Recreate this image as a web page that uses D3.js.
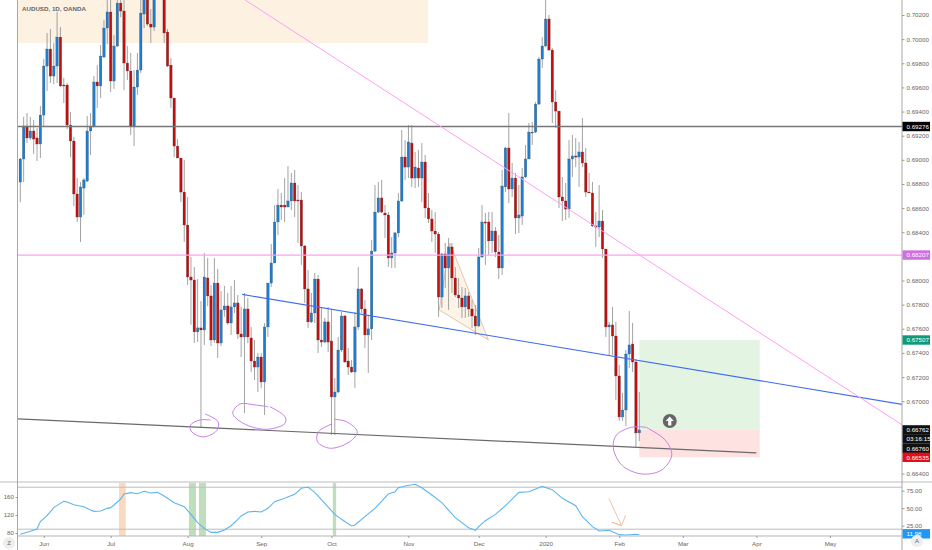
<!DOCTYPE html>
<html>
<head>
<meta charset="utf-8">
<script src="https://cdnjs.cloudflare.com/ajax/libs/d3/7.8.5/d3.min.js"></script>
<style>
  html, body { margin: 0; padding: 0; background: #fff; }
  text { font-family: "Liberation Sans", Arial, sans-serif; }
</style>
</head>
<body>
<div id="chart"></div>
<script>
// AUDUSD daily prices, in points (1 point = 0.00001)
const opens = [68816,69007,69280,69181,69239,69181,69131,69371,69777,69918,69694,69777,70017,69620,69620,69288,69156,68717,68526,68766,68824,69239,69272,69645,69612,69852,70092,70225,69653,69943,70299,70233,69802,69736,69280,69603,69744,70208,70341,70125,70100,70374,70407,70365,70059,69785,69512,69114,69015,68733,68460,68029,68004,67574,67607,67590,68021,67872,67507,67979,67482,67756,67789,67648,67781,67814,67557,67532,67764,67524,67333,67283,67366,67159,67615,67979,68145,68485,68625,68625,68609,68659,68808,68667,68667,68286,67930,67657,67731,68012,67507,67490,67657,67499,67035,67076,67424,67706,67333,67283,67242,67615,67930,67764,67549,67599,68244,68567,68684,68559,68543,68187,68228,68394,68659,69023,68940,69139,68849,68932,68849,68982,68601,68510,68410,68385,67863,68220,68104,68278,68021,67880,67855,67781,67872,67764,67706,67623,68195,68485,68485,68328,68410,68236,68104,68775,69098,68758,68849,68518,68534,68858,69007,69222,69230,69462,69835,69943,70167,69910,69479,69404,68692,68659,68592,69007,69032,69023,69065,68974,68733,68725,68452,68443,68493,68261,67615,67632,67540,67209,66869,66927,67391,67474,67325,66737];
const highs = [69015,69355,69388,69355,69330,69264,69446,69835,70051,70084,69968,70225,70100,69678,69636,69396,69189,68849,68816,68849,69363,69388,69694,69785,69951,70158,70365,70365,70034,70365,70365,70324,69943,69885,69744,69885,70365,70390,70390,70249,70407,70440,70440,70407,70084,69843,69512,69172,69015,68998,68692,68195,68112,68012,67830,68228,68187,67963,68187,68096,67913,67955,67896,67955,68004,67880,67781,67896,67855,67615,67507,67399,67399,67648,67979,68302,68625,68758,68725,68849,68949,68891,68916,68791,68733,68294,68087,67896,68062,68046,67781,67690,67781,67756,67192,67532,67739,67714,67441,67341,67739,68112,67938,67839,67714,68336,68791,68816,68833,68625,68567,68360,68402,68725,69247,69164,69288,69288,69065,69081,69139,69040,68725,68584,68567,68402,68228,68311,68352,68311,68112,68021,67946,67938,67905,67839,67797,68269,68625,68559,68567,68567,68443,68377,68916,69106,69388,68974,68891,68791,68932,69123,69305,69313,69479,69852,70017,70365,70200,69926,69578,69404,68858,68808,69164,69206,69181,69148,69346,69098,68891,68816,68567,68791,68584,68261,67657,67781,67657,67300,67068,67424,67748,67648,67350,67076];
const lows = [68650,68816,69139,69164,69048,68990,69015,69280,69570,69636,69628,69636,69603,69471,69255,69023,68617,68485,68319,68543,68816,69040,69272,69429,69512,69843,69959,69562,69587,69935,70183,69578,69661,69206,69114,69537,69719,70092,70109,69968,70067,70349,70341,69968,69769,69429,69023,69015,68650,68319,67963,67632,67482,67490,66786,67466,67789,67457,67482,67358,67457,67698,67632,67549,67731,67515,67366,66902,67482,67242,67176,67076,67109,66886,67532,67946,68145,68377,68501,68485,68609,68584,68526,68311,68129,67814,67607,67648,67648,67399,67449,67482,67408,66720,66720,67068,67408,67317,67217,67234,67109,67590,67731,67441,67234,67507,68236,68559,68559,68352,68112,68104,68104,68360,68650,68833,68849,68775,68766,68775,68650,68518,68476,68319,68228,67698,67772,67938,67756,67896,67863,67772,67690,67690,67698,67607,67549,67615,68187,68129,68211,68228,68195,68012,68046,68733,68642,68692,68385,68394,68460,68849,69007,69123,69222,69454,69761,69935,69901,69305,69264,68601,68493,68501,68518,68858,68940,68775,68940,68692,68725,68443,68278,68360,68187,67532,67383,67383,67010,66836,66836,66795,67275,67242,66621,66670];
const closes = [69007,69280,69181,69239,69172,69131,69371,69777,69918,69694,69777,70017,69612,69612,69288,69156,68717,68526,68775,68833,69239,69272,69645,69612,69860,70092,70225,69653,69943,70299,70233,69802,69736,69280,69603,69744,70216,70341,70125,70100,70365,70407,70365,70051,69777,69512,69114,69015,68733,68460,68029,68004,67574,67607,67590,68029,67872,67507,67979,67482,67756,67789,67648,67781,67814,67557,67532,67764,67532,67333,67283,67366,67159,67615,67979,68145,68485,68625,68609,68609,68659,68808,68659,68659,68286,67930,67657,67731,68012,67507,67490,67657,67490,67035,67076,67424,67706,67325,67283,67242,67615,67930,67764,67549,67599,68244,68567,68684,68567,68543,68187,68228,68394,68659,69023,68940,69148,68849,68940,68849,68982,68601,68510,68410,68385,67863,68220,68104,68278,68021,67880,67855,67781,67872,67764,67706,67623,68195,68485,68476,68328,68410,68236,68104,68783,69098,68758,68849,68518,68543,68858,69007,69230,69230,69462,69835,69943,70167,69910,69479,69404,68692,68659,68592,69007,69032,69023,69065,68974,68733,68725,68452,68443,68493,68261,67615,67632,67540,67209,66869,66927,67391,67466,67325,66737,66762];

// oscillator
const oscBars = [0,1,3,5,6,8,10,12,13,14,16,19,21,22,24,26,27,28,30,31,33,35,37,39,41,43,46,49,51,53,55,57,59,61,63,65,66,68,70,72,74,76,79,82,84,86,88,91,94,96,99,100,103,106,109,110,112,113,115,118,120,123,126,130,134,136,137,139,142,145,149,152,156,159,162,166,168,171,173,176,179,181,184,185];
const oscValues = [12.7,14.1,17,20.3,30.8,39.3,50.8,56.9,59.8,58.8,55,52.2,47.4,45.5,46,49.8,50.8,54.6,63.1,70.3,72.2,70.7,74.1,71.7,72.6,67.4,57.9,52.2,41.2,29.3,21.2,15.5,15.5,18.9,25,34.1,38.9,44.6,45.5,44.6,49.8,59.3,64.1,69.8,78.4,80.3,72.6,56.9,41.2,34.1,24.6,26,37.9,49.8,65,70.3,73.6,79.3,81.7,84.1,79.3,68.8,57.9,36.5,22.2,18.4,23.6,32.2,41.2,53.6,72.6,73.6,81.2,76.5,64.1,53.6,37.9,23.6,17.4,18.4,12.2,11.7,12.7,11.98];

const priceTicks = [70200,70000,69800,69600,69400,69200,69000,68800,68600,68400,68000,67800,67600,67400,67200,67000,66400];
const oscTicks = [75,50,25];
const volTicks = [160,120,80];
const dateTicks = [7,27,50,72,93,116,137,157,179,198,220,242];
const dateLabels = ["Jun","Jul","Aug","Sep","Oct","Nov","Dec","2020","Feb","Mar","Apr","May"];

// highlighted spans in the lower pane, [from bar, to bar]
const orangeSpans = [[29.5,31.5]];
const greenSpans = [[50.4,52.5],[53.4,55.5],[93.4,94.4]];

const lastBar = 185;
const width = 932, height = 550;
const left = 17.5, right = 902;
const lineTop = 482, paneBottom = 536;
const smallFont = 6.2;

const x = d3.scaleLinear().domain([0, lastBar]).range([20.3, 639.3]);
const y = d3.scaleLinear().domain([66400, 70200]).range([473.6, 15]);
const osc = d3.scaleLinear().domain([25, 75]).range([525.7, 490.7]);
const vol = d3.scaleLinear().domain([80, 160]).range([533, 497]);

const svg = d3.select("#chart").append("svg")
  .attr("width", width)
  .attr("height", height)
  .style("display", "block");

svg.append("defs").append("clipPath").attr("id", "plot")
  .append("rect").attr("x", left).attr("y", 0).attr("width", right - left).attr("height", lineTop);

const plot = svg.append("g").attr("clip-path", "url(#plot)");

// zones under the candles
function zone(b0, b1, p0, p1, color) {
  plot.append("rect")
    .attr("x", x(b0)).attr("width", x(b1) - x(b0))
    .attr("y", y(p0)).attr("height", y(p1) - y(p0))
    .attr("fill", color);
}
zone(-1, 121.9, 70450, 69968, "#fdf1e2");
zone(185, 221, 67507, 66762, "#e3f4e3");
zone(185, 221, 66762, 66535, "#fee1e1");

// the small wedge
const wedge = [[128.4,68311],[125.2,67756],[139.9,67507]];
plot.append("path")
  .attr("d", d3.line().x(d => x(d[0])).y(d => y(d[1])).curve(d3.curveLinearClosed)(wedge))
  .attr("fill", "#fdf4e8").attr("stroke", "#d9b9a3").attr("stroke-width", 0.8);

// candles
const bars = d3.range(opens.length);
const isUp = i => closes[i] >= opens[i];

plot.selectAll(".wick").data(bars).enter().append("line")
  .attr("class", "wick")
  .attr("x1", d => x(d)).attr("x2", d => x(d))
  .attr("y1", d => y(highs[d])).attr("y2", d => y(lows[d]))
  .attr("stroke", "#999").attr("stroke-width", 0.9);

plot.selectAll(".body").data(bars).enter().append("rect")
  .attr("class", "body")
  .attr("x", d => x(d) - 1.25).attr("width", 2.5)
  .attr("y", d => y(Math.max(opens[d], closes[d])))
  .attr("height", d => Math.max(0.8, Math.abs(y(opens[d]) - y(closes[d]))))
  .attr("fill", d => isUp(d) ? "#1c7ed2" : "#c40d0d")
  .attr("stroke", "#444").attr("stroke-width", 0.25);

// horizontal and sloped lines, in [bar, price]
function seg(a, b, color, w) {
  plot.append("line")
    .attr("x1", x(a[0])).attr("y1", y(a[1]))
    .attr("x2", x(b[0])).attr("y2", y(b[1]))
    .attr("stroke", color).attr("stroke-width", w);
}
seg([-2, 69276], [265, 69276], "#777", 1.3);
seg([-2, 68211], [265, 68211], "#ff9ff5", 1.2);
seg([66.3, 67885], [264.5, 66969], "#3f6df2", 1.1);
seg([-0.7, 66853], [220, 66572], "#6a6a6a", 1.2);
seg([67.2, 70324], [264.5, 66787], "#ff9ff5", 1);

// hand drawn circles
const circles = [
  [[56.9,66844],[53.7,66844],[50.9,66803],[51.2,66747],[54.6,66704],[58.7,66756],[59.1,66830],[55.2,66894]],
  [[74.1,66954],[70.1,66969],[65.7,66977],[63.5,66900],[66.6,66817],[73.6,66767],[79.1,66817],[79.1,66872],[74.6,66954]],
  [[93.1,66811],[89.1,66747],[88.8,66665],[92.6,66610],[98.5,66665],[100.7,66747],[97.5,66830],[93.8,66850]],
  [[187,66784],[182.7,66784],[178.2,66720],[177.2,66621],[179.7,66472],[185.7,66397],[191.7,66430],[194.7,66554],[192.7,66679],[187,66784]]
];
const handLine = d3.line().x(d => x(d[0])).y(d => y(d[1])).curve(d3.curveCatmullRom);
plot.selectAll(".hand").data(circles).enter().append("path")
  .attr("class", "hand")
  .attr("d", handLine)
  .attr("fill", "none").attr("stroke", "#c87fe9").attr("stroke-width", 1);

// up arrow marker
const marker = svg.append("g").attr("transform", `translate(${x(194.1)},${y(66836)})`);
marker.append("circle").attr("r", 7).attr("fill", "#666");
marker.append("path").attr("d", "M0,-4.5 L4,0 L1.6,0 L1.6,4.5 L-1.6,4.5 L-1.6,0 L-4,0 Z").attr("fill", "#fff");

// legend
svg.append("text").attr("x", 22).attr("y", 11)
  .attr("font-size", 6.2).attr("font-weight", "bold").attr("fill", "#666")
  .text("AUDUSD, 1D, OANDA");

// lower pane
const pane = svg.append("g");
pane.selectAll(".orange").data(orangeSpans).enter().append("rect")
  .attr("x", d => x(d[0])).attr("width", d => x(d[1]) - x(d[0]))
  .attr("y", lineTop).attr("height", paneBottom - lineTop).attr("fill", "#fbd9bf");
pane.selectAll(".green").data(greenSpans).enter().append("rect")
  .attr("x", d => x(d[0])).attr("width", d => x(d[1]) - x(d[0]))
  .attr("y", lineTop).attr("height", paneBottom - lineTop).attr("fill", "#bfdfbc");

[80, 20].forEach(v => {
  pane.append("line").attr("x1", left).attr("x2", right)
    .attr("y1", osc(v)).attr("y2", osc(v))
    .attr("stroke", "#bdbdbd").attr("stroke-width", 1);
});

const oscLine = d3.line().x((d, i) => x(oscBars[i])).y(d => osc(d));
pane.append("path").attr("d", oscLine(oscValues))
  .attr("fill", "none").attr("stroke", "#5db5ef").attr("stroke-width", 1.1);

// orange arrow
const arrowPts = [[175.9,64.1],[179.7,25],[176.9,29.8],[179.7,25],[180.9,40.3]];
pane.append("path")
  .attr("d", d3.line().x(d => x(d[0])).y(d => osc(d[1]))(arrowPts))
  .attr("fill", "none").attr("stroke", "#f2b998").attr("stroke-width", 0.9);

// frame
const frame = svg.append("g");
frame.append("line").attr("x1", 0).attr("x2", width).attr("y1", lineTop).attr("y2", lineTop)
  .attr("stroke", "#dedede").attr("stroke-width", 2);
frame.append("line").attr("x1", left).attr("x2", right).attr("y1", paneBottom).attr("y2", paneBottom)
  .attr("stroke", "#b5b5b5").attr("stroke-width", 1);
frame.append("line").attr("x1", left).attr("x2", left).attr("y1", 0).attr("y2", height)
  .attr("stroke", "#a8a8a8").attr("stroke-width", 1);
frame.append("line").attr("x1", right).attr("x2", right).attr("y1", 0).attr("y2", height)
  .attr("stroke", "#a8a8a8").attr("stroke-width", 1);

// axes
function styleAxis(g) {
  g.select(".domain").remove();
  g.selectAll("line").attr("stroke", "#9a9a9a");
  g.selectAll("text").attr("fill", "#666").attr("font-size", smallFont)
    .style("font-family", "'Liberation Sans', Arial, sans-serif");
}
svg.append("g").attr("transform", `translate(${right},0)`)
  .call(d3.axisRight(y).tickValues(priceTicks).tickSize(2.5).tickPadding(2).tickFormat(d => (d / 1e5).toFixed(5)))
  .call(styleAxis);
svg.append("g").attr("transform", `translate(${right},0)`)
  .call(d3.axisRight(osc).tickValues(oscTicks).tickSize(2.5).tickPadding(2).tickFormat(d3.format(".2f")))
  .call(styleAxis);
svg.append("g").attr("transform", `translate(${left},0)`)
  .call(d3.axisLeft(vol).tickValues(volTicks).tickSize(2).tickPadding(1.5))
  .call(styleAxis);

svg.append("g").attr("transform", `translate(0,${paneBottom})`)
  .call(d3.axisBottom(x).tickValues(dateTicks).tickSize(2).tickPadding(4)
    .tickFormat((d, i) => dateLabels[i]))
  .call(styleAxis);

// price tags on the right
const tags = [
  [y(69276), "0.69276", "#000"],
  [y(68211), "0.68207", "#cf6fe0"],
  [y(67507), "0.67507", "#0f9a78"],
  [y(66762), "0.66762", "#111"],
  [y(66687), "03:16:15", "#111"],
  [y(66535) - 9, "0.66760", "#111"],
  [y(66535), "0.66535", "#e0101a"],
  [osc(11.98) - 1, "11.98", "#2196f3"]
];
const tag = svg.selectAll(".tag").data(tags).enter().append("g").attr("class", "tag")
  .attr("transform", d => `translate(${right + 0.5},${d[0]})`);
tag.append("rect").attr("x", 0).attr("y", -4.7).attr("width", 27.5).attr("height", 9.4)
  .attr("fill", d => d[2]);
tag.append("text").attr("x", 4).attr("y", 2.2).attr("font-size", smallFont).attr("fill", "#fff").text(d => d[1]);

// round buttons in the corners
[[9, 543, "Z"], [917, 541, "A"]].forEach(b => {
  svg.append("circle").attr("cx", b[0]).attr("cy", b[1]).attr("r", 6).attr("fill", "#eee");
  svg.append("text").attr("x", b[0]).attr("y", b[1] + 2.2).attr("text-anchor", "middle")
    .attr("font-size", 6).attr("fill", "#666").text(b[2]);
});
</script>
</body>
</html>
